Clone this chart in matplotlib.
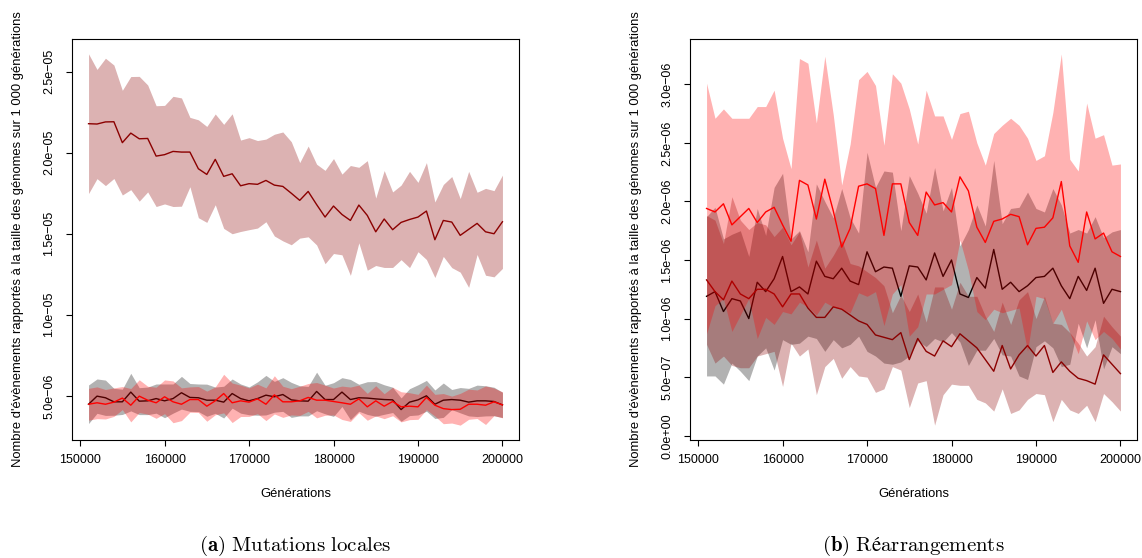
import matplotlib
matplotlib.use("Agg")
import numpy as np
import matplotlib.pyplot as plt

plt.rcParams['font.family'] = ['Liberation Sans', 'DejaVu Sans']
plt.rcParams['mathtext.fontset'] = 'cm'

# generations (x)
generations = [151000, 152000, 153000, 154000, 155000, 156000, 157000, 158000, 159000, 160000,
               161000, 162000, 163000, 164000, 165000, 166000, 167000, 168000, 169000, 170000,
               171000, 172000, 173000, 174000, 175000, 176000, 177000, 178000, 179000, 180000,
               181000, 182000, 183000, 184000, 185000, 186000, 187000, 188000, 189000, 190000,
               191000, 192000, 193000, 194000, 195000, 196000, 197000, 198000, 199000, 200000]

# (a) mutations locales, values in 1e-6
loc_black_mean = [4.48, 4.98, 4.88, 4.63, 4.63, 5.23, 4.67, 4.69, 4.83, 4.69, 4.83, 5.19, 4.90, 4.88, 4.73,
                  4.73, 4.61, 5.14, 4.83, 4.69, 4.83, 5.04, 4.94, 5.08, 4.75, 4.69, 4.67, 5.27, 4.77, 4.77,
                  5.23, 4.77, 4.88, 4.86, 4.81, 4.77, 4.75, 4.15, 4.61, 4.75, 5.00, 4.48, 4.73, 4.77, 4.73,
                  4.61, 4.69, 4.69, 4.65, 4.44]
loc_black_sd = [1.19, 1.06, 1.09, 0.83, 0.78, 1.16, 0.83, 0.85, 0.90, 1.04, 0.90, 1.01, 0.86, 0.85, 0.99,
                0.81, 0.98, 0.90, 0.90, 0.86, 1.03, 1.22, 0.95, 1.04, 1.08, 0.93, 0.91, 1.19, 0.88, 1.04,
                0.89, 1.24, 0.83, 1.01, 1.07, 0.91, 0.78, 0.72, 0.83, 0.93, 0.95, 0.88, 1.06, 0.62, 0.78,
                0.85, 0.97, 0.93, 0.88, 0.78]
loc_darkred_mean = [21.79, 21.77, 21.90, 21.91, 20.62, 21.21, 20.86, 20.88, 19.79, 19.88, 20.08, 20.04, 20.04,
                    19.01, 18.66, 19.59, 18.54, 18.70, 17.96, 18.09, 18.05, 18.29, 18.00, 17.92, 17.50, 17.06,
                    17.61, 16.80, 16.03, 16.71, 16.19, 15.82, 16.77, 16.13, 15.12, 15.91, 15.25, 15.70, 15.88,
                    16.03, 16.40, 14.63, 15.82, 15.72, 14.90, 15.27, 15.64, 15.12, 15.00, 15.74]
loc_darkred_sd = [4.31, 3.37, 3.93, 3.50, 3.23, 3.49, 3.85, 3.30, 3.11, 3.04, 3.40, 3.34, 2.14, 3.02, 2.96,
                  2.80, 3.21, 3.70, 2.82, 2.84, 2.70, 2.55, 3.14, 3.36, 3.18, 2.33, 2.80, 2.49, 2.88, 2.93,
                  2.49, 3.39, 2.33, 3.38, 2.08, 2.99, 2.33, 2.30, 2.97, 2.14, 2.99, 2.33, 2.22, 2.81, 2.27,
                  3.58, 1.92, 2.68, 2.66, 2.88]
loc_red_mean = [4.48, 4.57, 4.48, 4.61, 4.86, 4.42, 4.98, 4.73, 4.57, 4.94, 4.63, 4.48, 4.77, 4.77, 4.36,
                4.69, 5.14, 4.57, 4.69, 4.61, 4.81, 4.48, 5.06, 4.63, 4.63, 4.69, 4.90, 4.73, 4.73, 4.65,
                4.57, 4.48, 4.81, 4.32, 4.69, 4.36, 4.65, 4.32, 4.36, 4.32, 4.90, 4.42, 4.21, 4.15, 4.17,
                4.48, 4.48, 4.42, 4.63, 4.44]
loc_red_sd = [0.98, 0.98, 0.91, 0.88, 0.71, 1.03, 1.01, 0.86, 0.96, 1.04, 1.29, 1.01, 0.78, 0.80, 0.93,
              0.86, 1.19, 1.22, 0.97, 0.88, 0.91, 1.01, 1.18, 0.96, 0.81, 0.90, 0.86, 1.09, 0.93, 0.83,
              1.03, 1.06, 0.85, 0.83, 0.93, 0.77, 0.88, 0.93, 0.83, 0.77, 0.76, 0.67, 0.93, 0.83, 0.98,
              0.93, 0.88, 1.19, 0.85, 0.80]

# (b) rearrangements, values in 1e-6
rea_black_mean = [1.19, 1.23, 1.06, 1.17, 1.15, 1.00, 1.31, 1.23, 1.34, 1.53, 1.23, 1.27, 1.21, 1.49, 1.36,
                  1.34, 1.43, 1.32, 1.29, 1.57, 1.40, 1.44, 1.43, 1.19, 1.45, 1.44, 1.33, 1.56, 1.36, 1.50,
                  1.21, 1.18, 1.35, 1.26, 1.59, 1.25, 1.31, 1.23, 1.28, 1.35, 1.36, 1.43, 1.28, 1.17, 1.36,
                  1.24, 1.43, 1.13, 1.25, 1.23]
rea_black_sd = [0.68, 0.72, 0.62, 0.55, 0.60, 0.53, 0.63, 0.48, 0.78, 0.71, 0.45, 0.48, 0.36, 0.66, 0.64,
                0.52, 0.68, 0.54, 0.44, 0.85, 0.72, 0.82, 0.82, 0.56, 0.77, 0.63, 0.57, 0.73, 0.56, 0.62,
                0.41, 0.58, 0.62, 0.53, 0.76, 0.56, 0.63, 0.72, 0.80, 0.59, 0.55, 0.68, 0.69, 0.56, 0.40,
                0.49, 0.44, 0.56, 0.49, 0.53]
rea_darkred_mean = [1.33, 1.23, 1.16, 1.32, 1.21, 1.17, 1.25, 1.25, 1.21, 1.10, 1.21, 1.21, 1.09, 1.01, 1.01,
                    1.10, 1.08, 1.03, 0.98, 0.95, 0.86, 0.84, 0.82, 0.88, 0.65, 0.83, 0.72, 0.68, 0.81, 0.76,
                    0.87, 0.81, 0.75, 0.65, 0.55, 0.77, 0.57, 0.69, 0.77, 0.68, 0.77, 0.54, 0.63, 0.55, 0.49,
                    0.47, 0.44, 0.69, 0.61, 0.53]
rea_darkred_sd = [0.55, 0.61, 0.48, 0.72, 0.63, 0.59, 0.57, 0.55, 0.49, 0.68, 0.42, 0.53, 0.35, 0.66, 0.42,
                  0.44, 0.59, 0.44, 0.47, 0.45, 0.49, 0.44, 0.23, 0.32, 0.41, 0.38, 0.25, 0.59, 0.46, 0.32,
                  0.44, 0.38, 0.44, 0.37, 0.34, 0.37, 0.38, 0.47, 0.46, 0.32, 0.42, 0.42, 0.32, 0.33, 0.30,
                  0.21, 0.32, 0.33, 0.32, 0.32]
rea_red_mean = [1.94, 1.91, 1.98, 1.80, 1.87, 1.94, 1.82, 1.91, 1.95, 1.80, 1.66, 2.18, 2.14, 1.85, 2.19,
                1.92, 1.61, 1.77, 2.13, 2.15, 2.11, 1.71, 2.15, 2.15, 1.82, 1.71, 2.08, 1.97, 1.99, 1.91,
                2.21, 2.09, 1.78, 1.65, 1.83, 1.85, 1.89, 1.87, 1.63, 1.77, 1.78, 1.86, 2.17, 1.62, 1.48,
                1.91, 1.68, 1.73, 1.57, 1.53]
rea_red_sd = [1.07, 0.80, 0.81, 0.91, 0.84, 0.77, 0.99, 0.90, 1.00, 0.74, 0.62, 1.04, 1.04, 0.82, 1.05,
              0.82, 0.53, 0.72, 0.91, 0.96, 0.88, 0.77, 0.94, 0.86, 0.97, 0.78, 0.87, 0.76, 0.74, 0.62,
              0.54, 0.68, 0.72, 0.66, 0.75, 0.80, 0.82, 0.78, 0.91, 0.58, 0.61, 0.90, 1.09, 0.74, 0.78,
              0.93, 0.86, 0.84, 0.74, 0.79]

x_ticks = [150000, 160000, 170000, 180000, 190000, 200000]
loc_yticks = [5e-6, 1e-5, 1.5e-5, 2e-5, 2.5e-5]
rea_yticks = [0, 5e-7, 1e-6, 1.5e-6, 2e-6, 2.5e-6, 3e-6]

ylab = "Nombre d'évènements rapportés à la taille des génomes sur 1 000 générations"
colors = ['black', '#8B0000', '#FF0000']


def r_sci(v):
    return f"{v:.1e}".replace('-', '\u2212')


def panel(ax, series, yticks):
    x = np.array(generations)
    # band then line for each series, in order, like base R polygon()/lines()
    z = 1
    for (m, s), c in zip(series, colors):
        m = np.array(m) * 1e-6
        s = np.array(s) * 1e-6
        ax.fill_between(x, m - s, m + s, color=c, alpha=0.3, linewidth=0, zorder=z)
        ax.plot(x, m, color=c, lw=1.0, zorder=z + 1)
        z += 2
    ax.margins(0.04)
    ax.set_xticks(x_ticks)
    ax.set_xticklabels([str(t) for t in x_ticks])
    ax.set_yticks(yticks)
    ax.set_yticklabels([r_sci(t) for t in yticks], rotation=90, va='center')
    ax.tick_params(direction='out', length=4, width=0.8, labelsize=9, pad=6)
    ax.tick_params(axis='y', pad=8)
    for sp in ax.spines.values():
        sp.set_linewidth(0.8)
        sp.set_zorder(10)


fig = plt.figure(figsize=(11.42, 5.58), dpi=100)
W, H = 1142, 558
ax1 = fig.add_axes([72 / W, 1 - 440 / H, 447 / W, 401 / H])
ax2 = fig.add_axes([690 / W, 1 - 440 / H, 447 / W, 401 / H])

panel(ax1, [(loc_black_mean, loc_black_sd), (loc_darkred_mean, loc_darkred_sd),
            (loc_red_mean, loc_red_sd)], loc_yticks)
panel(ax2, [(rea_black_mean, rea_black_sd), (rea_darkred_mean, rea_darkred_sd),
            (rea_red_mean, rea_red_sd)], rea_yticks)

for ax, xl in ((ax1, 18), (ax2, 636)):
    b = ax.get_position()
    fig.text(xl / W, (b.y0 + b.y1) / 2, ylab, rotation=90, ha='center', va='center', fontsize=9.4)
    fig.text((b.x0 + b.x1) / 2, 1 - 494 / H, 'Générations', ha='center', va='center', fontsize=9.4)

fig.text((ax1.get_position().x0 + ax1.get_position().x1) / 2, 1 - 546 / H,
         r'$\mathbf{(a)}\ \mathrm{Mutations\ locales}$', ha='center', va='center', fontsize=15)
fig.text((ax2.get_position().x0 + ax2.get_position().x1) / 2, 1 - 546 / H,
         "$\\mathbf{(b)}\\ \\mathrm{R\u00e9arrangements}$", ha='center', va='center', fontsize=15)

fig.savefig('out.png', dpi=100)
